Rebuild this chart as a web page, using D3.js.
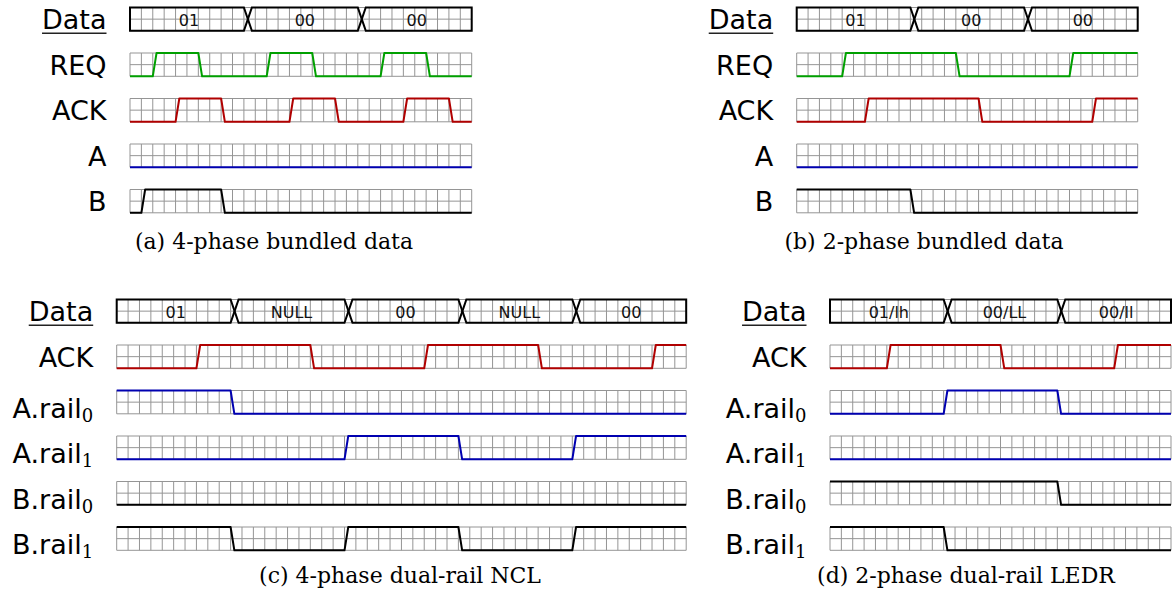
<!DOCTYPE html>
<html><head><meta charset="utf-8">
<script src="https://cdn.jsdelivr.net/npm/d3@7"></script>
<style>body{margin:0;background:#fff}</style>
</head><body><svg id="chart" width="1174" height="603"></svg>
<script>
// ---------- DATA ----------
// Signals are written as runs: [level, number of grid units]
const captions = ["(a) 4-phase bundled data", "(b) 2-phase bundled data",
                  "(c) 4-phase dual-rail NCL", "(d) 2-phase dual-rail LEDR"];

// (a) 4-phase bundled data
const aLabels = ["Data", "REQ", "ACK", "A", "B"];
const aBus    = ["01", "00", "00"];
const aBusLen = [10, 10, 10];
const aREQ = [[0,2],[1,4],[0,6],[1,4],[0,6],[1,4],[0,4]];
const aACK = [[0,4],[1,4],[0,6],[1,4],[0,6],[1,4],[0,2]];
const aA   = [[0,30]];
const aB   = [[0,1],[1,7],[0,22]];

// (b) 2-phase bundled data
const bLabels = ["Data", "REQ", "ACK", "A", "B"];
const bBus    = ["01", "00", "00"];
const bBusLen = [10, 10, 10];
const bREQ = [[0,4],[1,10],[0,10],[1,6]];
const bACK = [[0,6],[1,10],[0,10],[1,4]];
const bA   = [[0,30]];
const bB   = [[1,10],[0,20]];

// (c) 4-phase dual-rail NCL
const cLabels = ["Data", "ACK", "A.rail_0", "A.rail_1", "B.rail_0", "B.rail_1"];
const cBus    = ["01", "NULL", "00", "NULL", "00"];
const cBusLen = [10, 10, 10, 10, 10];
const cACK  = [[0,7],[1,10],[0,10],[1,10],[0,10],[1,3]];
const cAr0  = [[1,10],[0,40]];
const cAr1  = [[0,20],[1,10],[0,10],[1,10]];
const cBr0  = [[0,50]];
const cBr1  = [[1,10],[0,10],[1,10],[0,10],[1,10]];

// (d) 2-phase dual-rail LEDR
const dLabels = ["Data", "ACK", "A.rail_0", "A.rail_1", "B.rail_0", "B.rail_1"];
const dBus    = ["01/lh", "00/LL", "00/ll"];
const dBusLen = [10, 10, 10];
const dACK  = [[0,5],[1,10],[0,10],[1,5]];
const dAr0  = [[0,10],[1,10],[0,10]];
const dAr1  = [[0,30]];
const dBr0  = [[1,20],[0,10]];
const dBr1  = [[1,10],[0,20]];

// ---------- STYLE / LAYOUT ----------
const GREEN = "#00a000", RED = "#b00000", BLUE = "#0000b0", BLACK = "#000";
const panels = [
  {labels:aLabels, bus:aBus, busLen:aBusLen, sigs:[aREQ,aACK,aA,aB], colors:[GREEN,RED,BLUE,BLACK],
   x0:130, x1:471.7, top:7.5, cap:captions[0], capX:274, capY:249},
  {labels:bLabels, bus:bBus, busLen:bBusLen, sigs:[bREQ,bACK,bA,bB], colors:[GREEN,RED,BLUE,BLACK],
   x0:796.7, x1:1137.7, top:7.5, cap:captions[1], capX:924, capY:249},
  {labels:cLabels, bus:cBus, busLen:cBusLen, sigs:[cACK,cAr0,cAr1,cBr0,cBr1], colors:[RED,BLUE,BLUE,BLACK,BLACK],
   x0:116.7, x1:686.2, top:299.5, cap:captions[2], capX:400, capY:583},
  {labels:dLabels, bus:dBus, busLen:dBusLen, sigs:[dACK,dAr0,dAr1,dBr0,dBr1], colors:[RED,BLUE,BLUE,BLACK,BLACK],
   x0:830, x1:1171, top:299.5, cap:captions[3], capX:966, capY:583}
];
const ROW_H = 23.3, STEP = 45.5;
const SIG_SLOPE = 0.33, BUS_SLOPE = 0.7;

const svg = d3.select("#chart");
svg.append("rect").attr("width",1174).attr("height",603).attr("fill","#fff");

panels.forEach(p => {
  const n = d3.sum(p.busLen);
  const x = d3.scaleLinear().domain([0, n]).range([p.x0, p.x1]);
  const k = p.labels.length;
  const pi = 1 - ROW_H / STEP;
  const y = d3.scaleBand().domain(p.labels)
    .range([p.top, p.top + STEP * (k - 1) + ROW_H]).paddingInner(pi).paddingOuter(0);
  const g = svg.append("g");

  p.labels.forEach((lab, ri) => {
    const top = y(lab), bot = top + y.bandwidth(), mid = (top + bot) / 2;
    const lvl = d3.scaleLinear().domain([0, 1]).range([bot, top]);
    // grid
    const grid = g.append("g").attr("stroke", "#959595").attr("stroke-width", 1).attr("fill", "none");
    grid.selectAll("line.v").data(d3.range(n + 1)).join("line")
      .attr("x1", d => x(d)).attr("x2", d => x(d)).attr("y1", top).attr("y2", bot);
    grid.selectAll("line.h").data([top, mid, bot]).join("line")
      .attr("x1", x(0)).attr("x2", x(n)).attr("y1", d => d).attr("y2", d => d);

    // label
    const sub = lab.indexOf("_");
    const t = g.append("text").attr("x", p.x0 - 23.5)
      .attr("y", sub >= 0 ? bot + 4 : bot - 1.5)
      .attr("text-anchor", "end").attr("font-family", "DejaVu Sans").attr("font-size", 27).attr("fill", "#000");
    if (sub >= 0) {
      t.append("tspan").text(lab.slice(0, sub));
      t.append("tspan").attr("font-family", "DejaVu Serif").attr("font-size", 18).attr("dy", 4).text(lab.slice(sub + 1));
    } else {
      t.text(lab);
    }
    if (ri === 0) {
      const bb = t.node().getBBox();
      g.append("line").attr("x1", bb.x).attr("x2", bb.x + bb.width)
        .attr("y1", bot + 2.5).attr("y2", bot + 2.5).attr("stroke", "#222").attr("stroke-width", 1.4);
    }

    if (ri === 0) {
      // bus
      let s = 0;
      p.bus.forEach((txt, i) => {
        const e = s + p.busLen[i];
        const first = i === 0, last = i === p.bus.length - 1;
        const path = d3.path();
        if (first) { path.moveTo(x(s), bot); path.lineTo(x(s), top); }
        else { path.moveTo(x(s + BUS_SLOPE / 2), mid); path.lineTo(x(s + BUS_SLOPE), top); }
        path.lineTo(x(e), top);
        if (last) { path.lineTo(x(e), bot); }
        else { path.lineTo(x(e + BUS_SLOPE / 2), mid); path.lineTo(x(e), bot); }
        path.lineTo(first ? x(s) : x(s + BUS_SLOPE), bot);
        path.closePath();
        g.append("path").attr("d", path.toString()).attr("fill", "none")
          .attr("stroke", "#000").attr("stroke-width", 2).attr("stroke-linejoin", "miter");
        const cx = (x(first ? s : s + BUS_SLOPE / 2) + x(last ? e : e + BUS_SLOPE / 2)) / 2;
        g.append("text").attr("x", cx).attr("y", bot - 5).attr("text-anchor", "middle")
          .attr("font-family", "DejaVu Sans").attr("font-size", 16).attr("fill", "#111").text(txt);
        s = e;
      });
    } else {
      const runs = p.sigs[ri - 1];
      const path = d3.path();
      let t0 = 0, prev = null;
      runs.forEach(([lv, len]) => {
        if (prev === null) path.moveTo(x(0), lvl(lv));
        else if (lv !== prev) { path.lineTo(x(t0), lvl(prev)); path.lineTo(x(t0 + SIG_SLOPE), lvl(lv)); }
        prev = lv; t0 += len;
      });
      path.lineTo(x(t0), lvl(prev));
      g.append("path").attr("d", path.toString()).attr("fill", "none")
        .attr("stroke", p.colors[ri - 1]).attr("stroke-width", 2).attr("stroke-linejoin", "round");
    }
  });

  svg.append("text").attr("x", p.capX).attr("y", p.capY).attr("text-anchor", "middle")
    .attr("font-family", "DejaVu Serif").attr("font-size", 22).attr("fill", "#000").text(p.cap);
});
</script></body></html>
